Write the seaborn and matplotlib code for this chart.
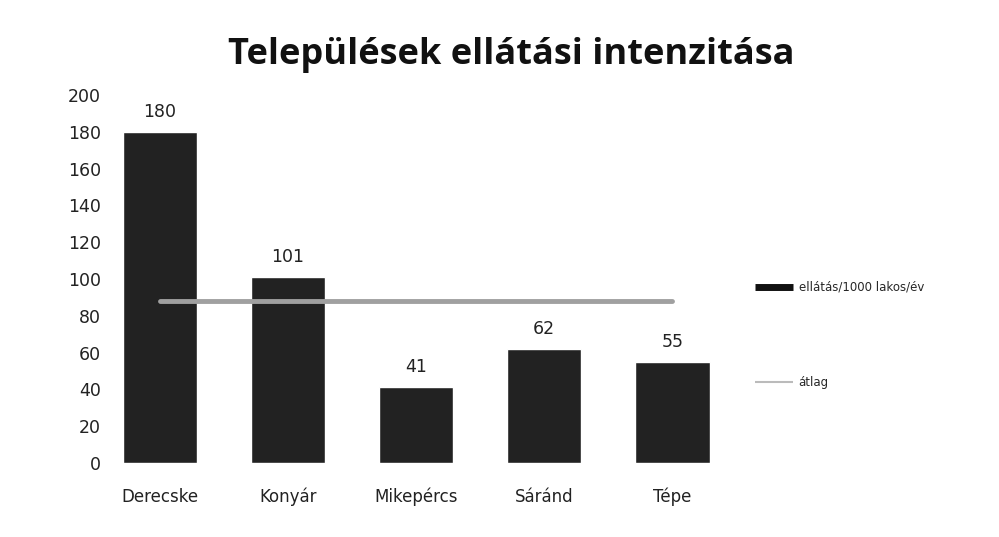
import pandas as pd
import matplotlib
matplotlib.use("Agg")
import matplotlib.pyplot as plt
import seaborn as sns
from matplotlib.lines import Line2D

# data
telepulesek = ["Derecske", "Konyár", "Mikepércs", "Sáránd", "Tépe"]
ellatas = [180, 101, 41, 62, 55]
atlag = [87.8, 87.8, 87.8, 87.8, 87.8]
y_ticks = [0, 20, 40, 60, 80, 100, 120, 140, 160, 180, 200]

df = pd.DataFrame({"telepules": telepulesek, "ellatas": ellatas, "atlag": atlag})

sns.set_style("white")
plt.rcParams["font.family"] = ["DejaVu Sans"]

fig = plt.figure(figsize=(9.99, 5.37), dpi=100)
ax = fig.add_axes([0.115, 0.138, 0.603, 0.685])

sns.barplot(data=df, x="telepules", y="ellatas", color="#222222",
            saturation=1, width=0.58, ax=ax)
ax.plot(range(len(telepulesek)), df["atlag"], color="#a0a0a0", lw=3.5)

for c in ax.containers:
    ax.bar_label(c, padding=8, fontsize=12.5, color="#222222")

ax.set_xlim(-0.35, 4.35)
ax.set_ylim(0, 200)
ax.set_yticks(y_ticks)
ax.tick_params(axis="y", labelsize=12.5, pad=10, length=0, colors="#222222")
ax.tick_params(axis="x", labelsize=12, pad=18, length=0, colors="#222222")
ax.set_xlabel("")
ax.set_ylabel("")
sns.despine(ax=ax, left=True, bottom=True)

fig.text(0.512, 0.897, "Települések ellátási intenzitása", ha="center", va="center",
         fontsize=26, fontweight="bold", color="#111111",
         family=["Open Sans", "DejaVu Sans"])

handles = [Line2D([0], [0], color="#111111", lw=5, solid_capstyle="butt"),
           Line2D([0], [0], color="#bbbbbb", lw=1.5, solid_capstyle="butt")]
fig.legend(handles, ["ellátás/1000 lakos/év", "átlag"], loc="upper left",
           bbox_to_anchor=(0.745, 0.497), frameon=False, fontsize=8.5,
           labelspacing=7.0, handlelength=3.2, handletextpad=0.5)

fig.savefig("out.png", dpi=100)
